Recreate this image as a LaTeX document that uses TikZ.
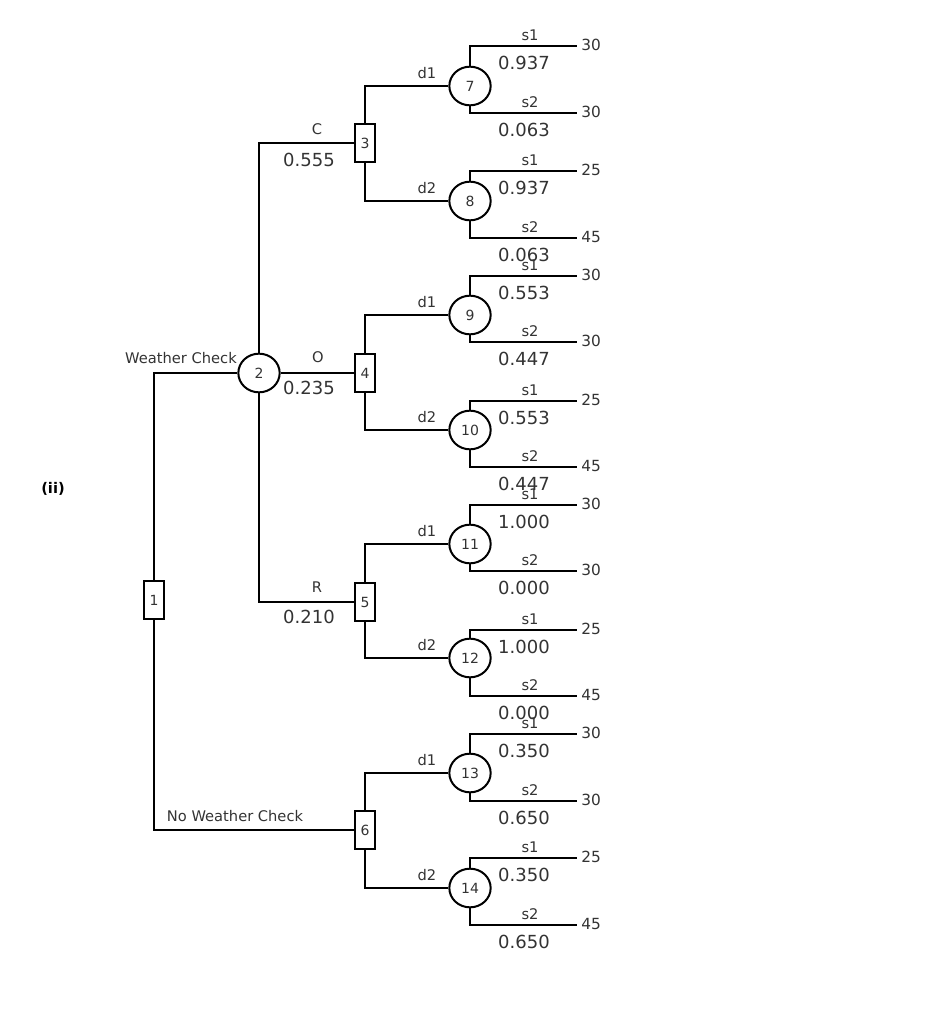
\documentclass[tikz,border=0pt]{standalone}
\usepackage{fontspec}
\setmainfont{DejaVu Sans}
\usetikzlibrary{shapes.geometric}
\definecolor{tx}{HTML}{333333}
\begin{document}
\begin{tikzpicture}[x=0.75pt,y=-0.75pt,line width=1.5pt,
 dec/.style={draw,rectangle,minimum width=15pt,minimum height=28pt,inner sep=0pt,font=\fontsize{10.5}{10.5}\selectfont,text=tx},
 chn/.style={draw,ellipse,minimum width=31pt,minimum height=29pt,inner sep=0pt,font=\fontsize{10.5}{10.5}\selectfont,text=tx},
 lab/.style={font=\fontsize{11}{11}\selectfont,text=tx},
 prb/.style={font=\fontsize{13.5}{13.5}\selectfont,text=tx},
 pay/.style={font=\fontsize{11.5}{11.5}\selectfont,text=tx}]
\useasboundingbox (0,0) rectangle (935,1024);
\node[font=\bfseries\fontsize{11}{11}\selectfont] (ii) at (53,489) {(ii)};
\node[dec] (n1) at (154,600) {1};
\node[chn] (n2) at (259,373) {2};
\node[dec] (n3) at (365,143) {3};
\node[dec] (n4) at (365,373) {4};
\node[dec] (n5) at (365,602) {5};
\node[dec] (n6) at (365,830) {6};
\draw (n1.north) |- (n2.west);
\draw (n1.south) |- (n6.west);
\draw (n2.north) |- (n3.west);
\draw (n2.east) -- (n4.west);
\draw (n2.south) |- (n5.west);
\node[lab] at (181,358) {Weather Check};
\node[lab] at (235,816) {No Weather Check};
\node[lab] at (317,129) {C}; \node[prb] at (309,160) {0.555};
\node[lab] at (318,357) {O}; \node[prb] at (309,388) {0.235};
\node[lab] at (317,587) {R}; \node[prb] at (309,617) {0.210};
\foreach \i/\p/\d/\a/\ya/\yb/\pa/\pb/\pu/\pv in {
 7/3/d1/86/46/113/0.937/0.063/30/30,
 8/3/d2/201/171/238/0.937/0.063/25/45,
 9/4/d1/315/276/342/0.553/0.447/30/30,
 10/4/d2/430/401/467/0.553/0.447/25/45,
 11/5/d1/544/505/571/1.000/0.000/30/30,
 12/5/d2/658/630/696/1.000/0.000/25/45,
 13/6/d1/773/734/801/0.350/0.650/30/30,
 14/6/d2/888/858/925/0.350/0.650/25/45}{
 \node[chn] (n\i) at (470,\a) {\i};
 \draw (n\p) |- (n\i.west);
 \node[lab] at (427,\a-13) {\d};
 \coordinate (e\i a) at (577,\ya);
 \coordinate (e\i b) at (577,\yb);
 \draw (n\i.north) |- (e\i a);
 \draw (n\i.south) |- (e\i b);
 \node[lab] at (530,\ya-11) {s1};
 \node[prb] at (524,\ya+17) {\pa};
 \node[lab] at (530,\yb-11) {s2};
 \node[prb] at (524,\yb+17) {\pb};
 \node[pay,anchor=west] at (576,\ya-1) {\pu};
 \node[pay,anchor=west] at (576,\yb-1) {\pv};
}
\end{tikzpicture}
\end{document}
